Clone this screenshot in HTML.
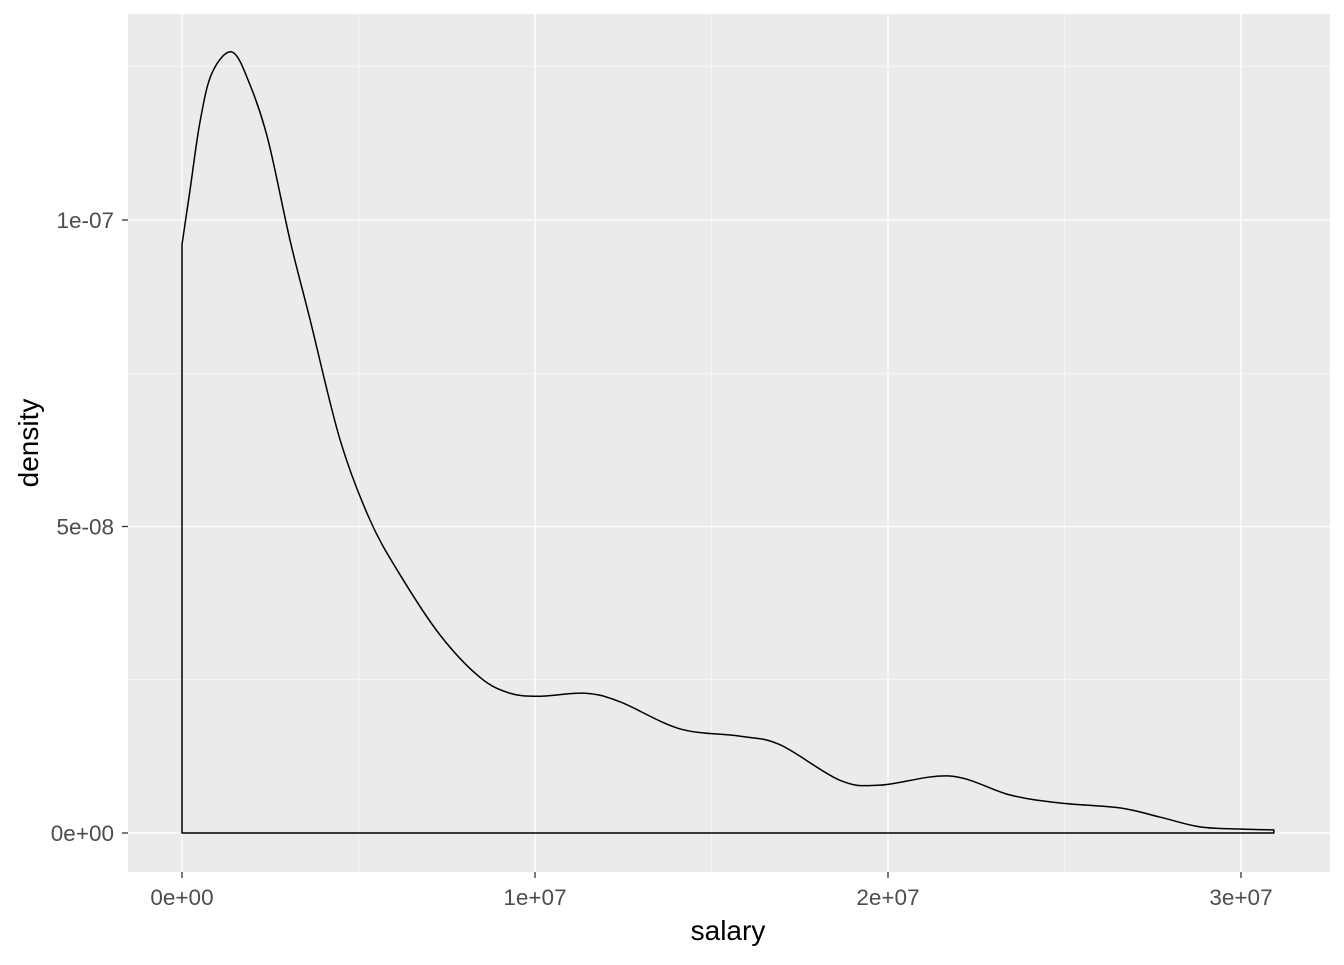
<!DOCTYPE html>
<html><head><meta charset="utf-8"><style>
html,body{margin:0;padding:0;background:#fff;}
svg text{font-family:"Liberation Sans",Arial,sans-serif;}
</style></head><body>
<svg id="chart" width="1344" height="960" xmlns="http://www.w3.org/2000/svg">
<rect x="128" y="14" width="1202" height="858" fill="#ebebeb"/>
<g id="grid"></g>
<g id="marks"></g>
<g id="axes"></g>
<text x="728" y="940" font-size="28" text-anchor="middle" fill="#000">salary</text>
<text transform="translate(38,443) rotate(-90)" font-size="28" text-anchor="middle" fill="#000">density</text>
</svg>
<script>
const salary = [0,0.23,0.51,0.85,1.42,1.93,2.44,3.06,3.63,4.48,5.33,6.18,7.31,8.44,9.29,10.14,11.42,12.41,14.1,15.8,16.94,18.64,19.77,21.76,23.46,24.87,26.57,27.7,28.84,29.97,30.93];
const density = [9.6,10.5,11.6,12.4,12.74,12.2,11.3,9.67,8.37,6.41,5.1,4.21,3.23,2.54,2.28,2.23,2.28,2.14,1.7,1.58,1.44,0.86,0.78,0.93,0.62,0.49,0.41,0.26,0.1,0.065,0.05];
const xTicks = [0,10,20,30];
const xTickLabels = ["0e+00","1e+07","2e+07","3e+07"];
const yTicks = [0,5,10];
const yTickLabels = ["0e+00","5e-08","1e-07"];
const xMinor = [5,15,25];
const yMinor = [2.5,7.5,12.5];

const ns="http://www.w3.org/2000/svg";
const X = v => 182 + (v-0)*35.3;
const Y = v => 833 - v*61.3;
function mk(tag, attrs, parent){const e=document.createElementNS(ns,tag);for(const k in attrs)e.setAttribute(k,attrs[k]);document.getElementById(parent).appendChild(e);return e;}

yMinor.forEach(v=>{const e=mk('line',{x1:128,x2:1330,y1:Y(v),y2:Y(v),stroke:'#fff','stroke-width':0.6},'grid');

});
xMinor.forEach(v=>{const e=mk('line',{x1:X(v),x2:X(v),y1:14,y2:872,stroke:'#fff','stroke-width':0.6},'grid');

});
yTicks.forEach((v,i)=>{const e=mk('line',{x1:128,x2:1330,y1:Y(v),y2:Y(v),stroke:'#fff','stroke-width':1.3},'grid');


const t=mk('line',{x1:122,x2:128,y1:Y(v),y2:Y(v),stroke:'#333','stroke-width':1.3},'axes');


const l=mk('text',{x:114,y:Y(v)+8,'font-size':22.5,'text-anchor':'end',fill:'#4d4d4d'},'axes');l.textContent=yTickLabels[i];

});
xTicks.forEach((v,i)=>{const e=mk('line',{x1:X(v),x2:X(v),y1:14,y2:872,stroke:'#fff','stroke-width':1.3},'grid');


const t=mk('line',{x1:X(v),x2:X(v),y1:872,y2:878,stroke:'#333','stroke-width':1.3},'axes');


const l=mk('text',{x:X(v),y:905,'font-size':22.5,'text-anchor':'middle',fill:'#4d4d4d'},'axes');l.textContent=xTickLabels[i];

});

const pts = salary.map((s,i)=>[X(s),Y(density[i])]);
let d='M'+X(salary[0])+','+Y(0)+' L'+pts[0][0]+','+pts[0][1];
for(let i=0;i<pts.length-1;i++){
  const p0=pts[Math.max(0,i-1)],p1=pts[i],p2=pts[i+1],p3=pts[Math.min(pts.length-1,i+2)];
  const c1=[p1[0]+(p2[0]-p0[0])/6,p1[1]+(p2[1]-p0[1])/6];
  const c2=[p2[0]-(p3[0]-p1[0])/6,p2[1]-(p3[1]-p1[1])/6];
  d+=' C'+c1[0]+','+c1[1]+' '+c2[0]+','+c2[1]+' '+p2[0]+','+p2[1];
}
d+=' L'+X(salary[salary.length-1])+','+Y(0)+' Z';
const p=mk('path',{d:d,fill:'none',stroke:'#000','stroke-width':1.5,'stroke-linejoin':'round'},'marks');


</script>
</body></html>
